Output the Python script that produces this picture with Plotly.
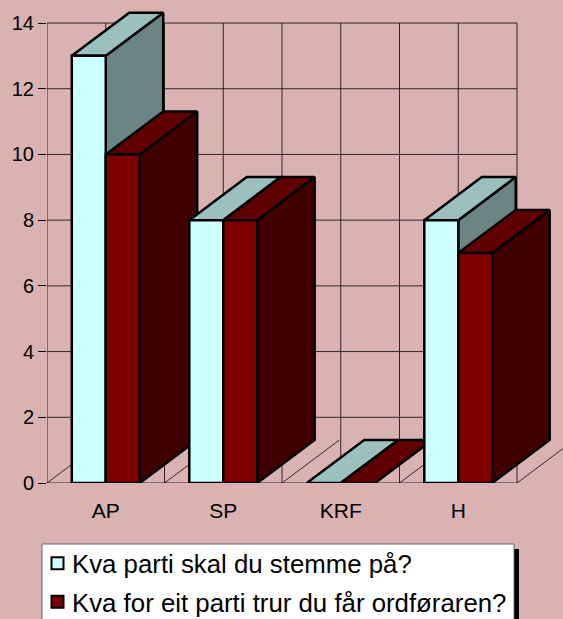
import plotly.graph_objects as go

categories = ["AP", "SP", "KRF", "H"]
stemme = [13, 8, 0, 8]
ordforar = [10, 8, 0, 7]
y_ticks = [0, 2, 4, 6, 8, 10, 12, 14]
series_names = ["Kva parti skal du stemme på?", "Kva for eit parti trur du får ordføraren?"]

BG = "#DAB2B2"
CYAN = ("#CCFFFF", "#9CC0BF", "#6A8584")
RED = ("#800000", "#600000", "#400000")
W = 0.289
DX = 0.489
DY = 1.31
EDGE = dict(color="black", width=2.5)
GRID = "rgba(0,0,0,0.78)"

PLOT_L, PLOT_B = 47, 483
FIG_W, FIG_H = 563, 619
UNIT_X, UNIT_Y = 117.5, 32.857
X_MIN, X_MAX = -0.5, 3.5
px = lambda v: (v - PLOT_L) / (FIG_W - PLOT_L)
py = lambda v: (PLOT_B - v) / PLOT_B

fig = go.Figure()

def poly(xs, ys, color):
    fig.add_trace(go.Scatter(x=xs + xs[:1], y=ys + ys[:1], mode="lines", fill="toself",
                             fillcolor=color, line=EDGE, showlegend=False, hoverinfo="skip"))

half_steps = [X_MIN + i * 0.5 for i in range(9)]

# back grid, drawn as traces so that the depth of the boxes can rise past it
gx, gy = [], []
for v in y_ticks:
    gx += [X_MIN, X_MAX, None]
    gy += [v, v, None]
for v in half_steps:
    gx += [v, v, None]
    gy += [y_ticks[0], y_ticks[-1], None]
    gx += [v, v + DX, None]
    gy += [0, DY, None]
fig.add_trace(go.Scatter(x=gx, y=gy, mode="lines", line=dict(color=GRID, width=1),
                         showlegend=False, hoverinfo="skip"))

def box(x0, value, cols):
    x1 = x0 + W
    poly([x1, x1 + DX, x1 + DX, x1], [0, DY, value + DY, value], cols[2])
    poly([x0, x1, x1 + DX, x0 + DX], [value, value, value + DY, value + DY], cols[1])

def front(x0, value, cols):
    if value > 0:
        x1 = x0 + W
        poly([x0, x1, x1, x0], [0, 0, value, value], cols[0])

for i in range(len(categories)):
    box(i - W, stemme[i], CYAN)
    front(i - W, stemme[i], CYAN)
    box(i, ordforar[i], RED)
    front(i, ordforar[i], RED)

for name, cols in zip(series_names, (CYAN, RED)):
    fig.add_trace(go.Scatter(x=[None], y=[None], mode="markers", name=name, legendgroup=name,
                             marker=dict(symbol="square", size=16, color=cols[0],
                                         line=dict(color="black", width=2))))

fig.update_layout(
    width=FIG_W, height=FIG_H, autosize=False,
    margin=dict(l=PLOT_L, r=0, t=0, b=FIG_H - PLOT_B, pad=0, autoexpand=False),
    paper_bgcolor=BG, plot_bgcolor=BG,
    font=dict(family="Liberation Sans, Arial, sans-serif", color="black", size=20),
    xaxis=dict(range=[X_MIN, X_MIN + (FIG_W - PLOT_L) / UNIT_X], tickmode="array",
               tickvals=list(range(len(categories))), ticktext=categories,
               tickfont=dict(size=21),
               showgrid=False, zeroline=False, showline=False, ticks="",
               ticklabelstandoff=13, fixedrange=True),
    yaxis=dict(range=[0, PLOT_B / UNIT_Y], tickmode="array", tickvals=y_ticks,
               showgrid=False, zeroline=False, showline=False, ticks="outside", ticklen=8,
               tickcolor="black", fixedrange=True),
    legend=dict(x=px(32), y=py(540), xanchor="left", yanchor="top",
                bgcolor="rgba(0,0,0,0)", borderwidth=0,
                font=dict(size=25.8), itemsizing="constant", tracegroupgap=2,
                itemclick=False, itemdoubleclick=False),
    shapes=[
        dict(type="rect", xref="paper", yref="paper", x0=px(514), x1=px(519), y0=py(549), y1=py(630),
             fillcolor="black", line=dict(width=0)),
        dict(type="rect", xref="paper", yref="paper", x0=px(42), x1=px(514), y0=py(544), y1=py(630),
             fillcolor="white", line=dict(width=1, color="#666666")),
    ],
)

post = """
document.body.style.margin = '0';
document.body.style.background = '%s';
document.body.style.overflow = 'hidden';
document.querySelectorAll('.legendsymbols').forEach(function (el) {
    el.setAttribute('transform', 'translate(5.5,0)');
});
""" % BG

fig.write_html("out.html", config={"displayModeBar": False}, post_script=post)
